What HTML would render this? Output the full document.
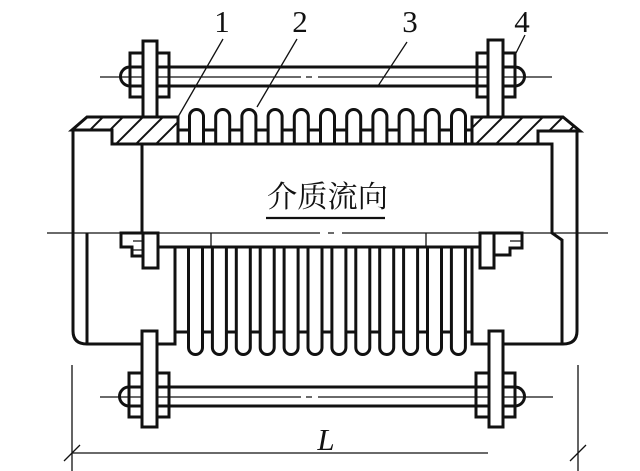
<!DOCTYPE html>
<html>
<head>
<meta charset="utf-8">
<style>
  html,body{margin:0;padding:0;background:#fff;}
  svg{display:block;}
</style>
</head>
<body>
<svg width="640" height="471" viewBox="0 0 640 471" xmlns="http://www.w3.org/2000/svg">
  <defs>
    <pattern id="hatch" patternUnits="userSpaceOnUse" width="20" height="20">
      <path d="M-2,22 L22,-2 M-2,2 L2,-2 M18,22 L22,18" stroke="#111" stroke-width="2"/>
    </pattern>
  </defs>
  <rect width="640" height="471" fill="#fff"/>

  <g fill="none" stroke="#111" stroke-linecap="butt" stroke-linejoin="miter">
    <!-- centerlines (thin) -->
    <g stroke-width="1.3">
      <path d="M47,233 H320 M328,233 H334 M342,233 H608"/>
      <path d="M100,77 H301 M306,77 H312 M318,77 H552"/>
      <path d="M100,397 H301 M306,397 H312 M318,397 H553"/>
      <path d="M211,233 V247 M426,233 V247"/>
      <!-- leaders -->
      <path d="M223,39 L178,117"/>
      <path d="M297,39 L257,107"/>
      <path d="M407,42 L378,86"/>
      <path d="M525,35 L515,55"/>
      <!-- dimension -->
      <path d="M72,365 V471 M578,365 V471"/>
      <path d="M72,453 H488"/>
      <path d="M64,461 L80,445 M570,461 L586,445"/>
      <!-- lug inner small lines -->
      <path d="M133,241 H143 M133,250 H143 M510,241 H522"/>
    </g>

    <!-- flanges hatched -->
    <path d="M87,117 H178 V144 H112 V130 H72 Z" fill="url(#hatch)" stroke-width="3"/>
    <path d="M472,117 H563 L580,131 H538 V144 H472 Z" fill="url(#hatch)" stroke-width="3"/>

    <g stroke-width="3">
      <!-- pipe body -->
      <path d="M73,130 V331 Q73,344 87,344 H143"/>
      <path d="M157,344 H175 V247"/>
      <path d="M87,233 V344"/>
      <path d="M142,144 V233"/>
      <path d="M112,144 H552 V233 L562,240 V344"/>
      <path d="M577,131 V331 Q577,344 563,344 H503"/>
      <path d="M489,344 H472 V247"/>
      <path d="M158,247 H480"/>

      <!-- upper bellows -->
      <path d="M178,130 H189.5
        M189.5,144 V116.5 A7,7 0 0 1 203.5,116.5 V144 M203.5,130 H215.7
        M215.7,144 V116.5 A7,7 0 0 1 229.7,116.5 V144 M229.7,130 H241.9
        M241.9,144 V116.5 A7,7 0 0 1 255.9,116.5 V144 M255.9,130 H268.1
        M268.1,144 V116.5 A7,7 0 0 1 282.1,116.5 V144 M282.1,130 H294.3
        M294.3,144 V116.5 A7,7 0 0 1 308.3,116.5 V144 M308.3,130 H320.5
        M320.5,144 V116.5 A7,7 0 0 1 334.5,116.5 V144 M334.5,130 H346.7
        M346.7,144 V116.5 A7,7 0 0 1 360.7,116.5 V144 M360.7,130 H372.9
        M372.9,144 V116.5 A7,7 0 0 1 386.9,116.5 V144 M386.9,130 H399.1
        M399.1,144 V116.5 A7,7 0 0 1 413.1,116.5 V144 M413.1,130 H425.3
        M425.3,144 V116.5 A7,7 0 0 1 439.3,116.5 V144 M439.3,130 H451.5
        M451.5,144 V116.5 A7,7 0 0 1 465.5,116.5 V144 M465.5,130 H472"/>

      <!-- lower bellows -->
      <path d="M175,332 H188.5
        M188.5,247 V347.5 A7,7 0 0 0 202.5,347.5 V247 M202.5,332 H212.4
        M212.4,247 V347.5 A7,7 0 0 0 226.4,347.5 V247 M226.4,332 H236.3
        M236.3,247 V347.5 A7,7 0 0 0 250.3,347.5 V247 M250.3,332 H260.2
        M260.2,247 V347.5 A7,7 0 0 0 274.2,347.5 V247 M274.2,332 H284.1
        M284.1,247 V347.5 A7,7 0 0 0 298.1,347.5 V247 M298.1,332 H308
        M308,247 V347.5 A7,7 0 0 0 322,347.5 V247 M322,332 H331.9
        M331.9,247 V347.5 A7,7 0 0 0 345.9,347.5 V247 M345.9,332 H355.8
        M355.8,247 V347.5 A7,7 0 0 0 369.8,347.5 V247 M369.8,332 H379.7
        M379.7,247 V347.5 A7,7 0 0 0 393.7,347.5 V247 M393.7,332 H403.6
        M403.6,247 V347.5 A7,7 0 0 0 417.6,347.5 V247 M417.6,332 H427.5
        M427.5,247 V347.5 A7,7 0 0 0 441.5,347.5 V247 M441.5,332 H451.4
        M451.4,247 V347.5 A7,7 0 0 0 465.4,347.5 V247 M465.4,332 H472"/>

      <!-- lugs at centerline -->
      <path d="M143,233 H121 V247 H132 V256 H143"/>
      <rect x="143" y="233" width="15" height="35" fill="#fff"/>
      <path d="M494,233 H522 V248 H510 V255 H494"/>
      <rect x="480" y="233" width="14" height="35" fill="#fff"/>

      <!-- top tie rod -->
      <path d="M130,67 H515 M130,86 H515"/>
      <path d="M130,67 A9.5,9.5 0 0 0 130,86"/>
      <path d="M515,67 A9.5,9.5 0 0 1 515,86"/>
      <rect x="130" y="53" width="39" height="44"/>
      <rect x="477" y="53" width="38" height="44"/>
      <rect x="143" y="41" width="14" height="76" fill="#fff"/>
      <rect x="488" y="40" width="15" height="77" fill="#fff"/>

      <!-- bottom tie rod -->
      <path d="M129,387 H515 M129,406 H515"/>
      <path d="M129,387 A9.5,9.5 0 0 0 129,406"/>
      <path d="M515,387 A9.5,9.5 0 0 1 515,406"/>
      <rect x="129" y="373" width="40" height="44"/>
      <rect x="476" y="373" width="39" height="44"/>
      <rect x="142" y="331" width="15" height="96" fill="#fff"/>
      <rect x="489" y="331" width="14" height="96" fill="#fff"/>
    </g>

    <!-- underline of text -->
    <path d="M266,218 H385" stroke-width="2.2"/>
  </g>

  <!-- labels -->
  <g font-family="'Liberation Serif', serif" font-size="31" fill="#111" text-anchor="middle">
    <text x="222" y="32">1</text>
    <text x="300" y="32">2</text>
    <text x="410" y="32">3</text>
    <text x="522" y="32">4</text>
  </g>
  <text x="326" y="450" font-family="'Liberation Serif', serif" font-style="italic" font-size="31" fill="#111" text-anchor="middle">L</text>
  <text x="267" y="207" font-family="'Liberation Serif', 'Noto Serif CJK SC', serif" font-size="30" fill="#111" textLength="121" lengthAdjust="spacingAndGlyphs">介质流向</text>
</svg>
</body>
</html>
